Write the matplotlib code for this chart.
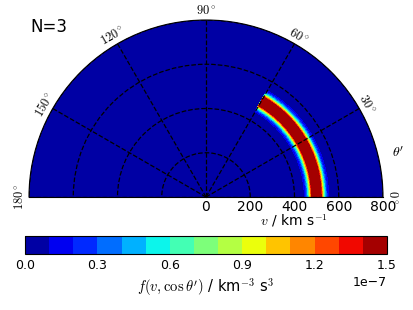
import numpy as np
import matplotlib
matplotlib.use("Agg")
import matplotlib.pyplot as plt

# ===============================
# DATA
# ===============================

# shell distribution: gaussian in speed, cut off below cos(theta') = 0.5
v_peak = 499.0          # km/s
v_width = 22.0          # km/s (sigma)
f_peak = 2.2e-7         # km^-3 s^3, shown clipped at the colour scale top
cos_cut = 0.5

r_ticks = [0, 200, 400, 600, 800]
theta_ticks = [0, 30, 60, 90, 120, 150, 180]
cbar_ticks = [0.0, 0.3e-7, 0.6e-7, 0.9e-7, 1.2e-7, 1.5e-7]
levels = np.linspace(0, 1.5e-7, 16)

theta = np.linspace(0, np.pi, 721)
v = np.linspace(0, 800, 801)
TH, V = np.meshgrid(theta, v)
F = f_peak * np.exp(-(V - v_peak) ** 2 / (2 * v_width ** 2))
F[np.cos(TH) < cos_cut] = 0.0
F = np.minimum(F, levels[-1] * 0.999)

plt.rcParams["mathtext.fontset"] = "cm"

# ===============================
# PLOT
# ===============================

fig = plt.figure(figsize=(4.13, 3.10), dpi=100)
# square box; the half disk sits in its middle half
ax = fig.add_axes([29 / 413, 24.5 / 310, 354 / 413, 354 / 310], projection="polar")
ax.set_thetamin(0)
ax.set_thetamax(180)
ax.set_rlim(0, 800)

cs = ax.contourf(TH, V, F, levels=levels, cmap="jet")

ax.set_thetagrids(theta_ticks, [r"$%d^\circ$" % t for t in theta_ticks], fontsize=9)
ax.tick_params(axis="x", labelrotation="auto", pad=-4)
ax.set_yticks(r_ticks)
ax.set_yticklabels([str(t) for t in r_ticks], fontsize=9)
ax.tick_params(axis="y", pad=-1)
ax.grid(True, color="black", linestyle="--", linewidth=0.9)

fig.text(294 / 413, 1 - 221 / 310, r"$v$ / km s$^{-1}$",
         ha="center", va="center", fontsize=10)
fig.text(398 / 413, 1 - 153 / 310, r"$\theta'$",
         ha="center", va="center", fontsize=10)
fig.text(30 / 413, 1 - 27 / 310, "N=3", fontsize=12, ha="left", va="center")

cax = fig.add_axes([25 / 413, 56 / 310, 362 / 413, 18 / 310])
cb = fig.colorbar(cs, cax=cax, orientation="horizontal", ticks=cbar_ticks)
cb.ax.tick_params(labelsize=9, length=0)
cb.ax.xaxis.get_offset_text().set_fontsize(9)
cb.set_label(r"$f(v,\cos\theta')$ / km$^{-3}$ s$^{3}$", fontsize=10.5, labelpad=3)

fig.savefig("out.png", dpi=100)
